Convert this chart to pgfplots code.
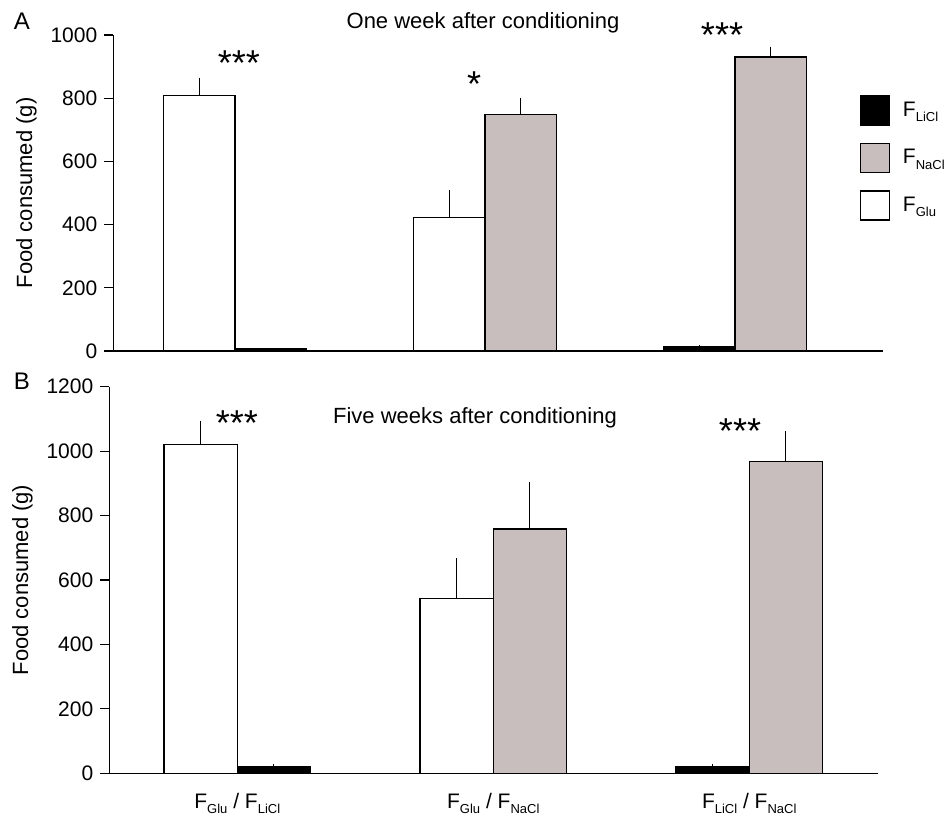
\documentclass[border=0pt]{standalone}
\usepackage{pgfplots}
\pgfplotsset{compat=1.18}
\usepackage{fontspec}
\setmainfont{Liberation Sans}

\definecolor{naclgray}{RGB}{199,190,189}
\newcommand{\sub}[1]{\raisebox{-0.5ex}{\fontsize{6.5}{7}\selectfont #1}}
\newcommand{\tickfont}{\fontsize{10.5}{12}\selectfont}
\newcommand{\labfont}{\fontsize{11}{13}\selectfont}

\pgfplotsset{
  foodaxis/.style={
    scale only axis,
    axis x line*=bottom, axis y line*=left,
    axis line style={line width=0.6pt},
    ytick pos=left, tick align=outside, major tick length=4.5pt,
    tick style={line width=0.6pt, black},
    /pgf/number format/assume math mode=true,
    /pgf/number format/1000 sep={},
    scaled y ticks=false,
    yticklabel={\tickfont\pgfmathprintnumber{\tick}},
    ylabel={\labfont Food consumed (g)},
    bar width=0.286,
    ymin=0,
  },
  bars/.style={ybar, bar shift=0pt, draw=black, line width=0.7pt,
    error bars/y dir=plus, error bars/y explicit,
    error bars/error mark=none,
    error bars/error bar style={line width=0.6pt, black}},
}

\begin{document}
\begin{tikzpicture}
\path[use as bounding box] (0,0) rectangle (473pt,-410pt);

% A: one week
\begin{axis}[foodaxis,
  at={(56.65pt,-175.5pt)}, anchor=south west,
  width=384.85pt, height=158pt,
  xmin=0.513, xmax=3.592, ymax=1000,
  ytick={0,200,...,1000}, xtick=\empty,
  legend cell align=left,
  legend image code/.code={\draw[#1, line width=0.7pt] (0pt,-7.25pt) rectangle (14.5pt,7.25pt);},
  legend style={at={(rel axis cs:0.969,0.81)}, anchor=north west, draw=none, fill=none,
    row sep=8.5pt, column sep=4.5pt, inner sep=0pt},
]
\addplot[bars, fill=black] coordinates {(1.143,8) +- (0,0) (2.857,14) +- (0,5)};
\addlegendentry{\tickfont F\sub{LiCl}}
\addplot[bars, fill=naclgray] coordinates {(2.143,749) +- (0,53) (3.143,931) +- (0,32)};
\addlegendentry{\tickfont F\sub{NaCl}}
\addplot[bars, fill=white] coordinates {(0.857,808) +- (0,57) (1.857,423) +- (0,86)};
\addlegendentry{\tickfont F\sub{Glu}}
\end{axis}

% B: five weeks
\begin{axis}[foodaxis,
  at={(54.65pt,-386.65pt)}, anchor=south west,
  width=384.35pt, height=193.3pt,
  xmin=0.5, xmax=3.503, ymax=1200,
  ytick={0,200,...,1200},
  xtick={1,2,3}, x tick style={draw=none},
  xticklabels={{\tickfont F\sub{Glu} / F\sub{LiCl}}, {\tickfont F\sub{Glu} / F\sub{NaCl}}, {\tickfont F\sub{LiCl} / F\sub{NaCl}}},
  xticklabel style={anchor=base, yshift=-13pt, inner sep=0pt},
]
\addplot[bars, fill=black] coordinates {(1.143,20) +- (0,8) (2.857,20) +- (0,9)};
\addplot[bars, fill=naclgray] coordinates {(2.143,758) +- (0,145) (3.143,967) +- (0,95)};
\addplot[bars, fill=white] coordinates {(0.857,1021) +- (0,73) (1.857,542) +- (0,125)};
\end{axis}

\begin{scope}[x=0.5pt, y=-0.5pt]
  \node[font=\fontsize{12}{14}\selectfont] at (22,21.5) {A};
  \node[font=\fontsize{12}{14}\selectfont] at (22,381.5) {B};
  \node[anchor=base, font=\labfont] at (483,28) {One week after conditioning};
  \node[anchor=base, font=\labfont] at (475,423) {Five weeks after conditioning};
  \node[anchor=base, font=\fontsize{18}{20}\selectfont] at (239,75) {***};
  \node[anchor=base, font=\fontsize{18}{20}\selectfont] at (474,96) {*};
  \node[anchor=base, font=\fontsize{18}{20}\selectfont] at (722,47) {***};
  \node[anchor=base, font=\fontsize{18}{20}\selectfont] at (237,435) {***};
  \node[anchor=base, font=\fontsize{18}{20}\selectfont] at (740,443) {***};
\end{scope}
\end{tikzpicture}
\end{document}
